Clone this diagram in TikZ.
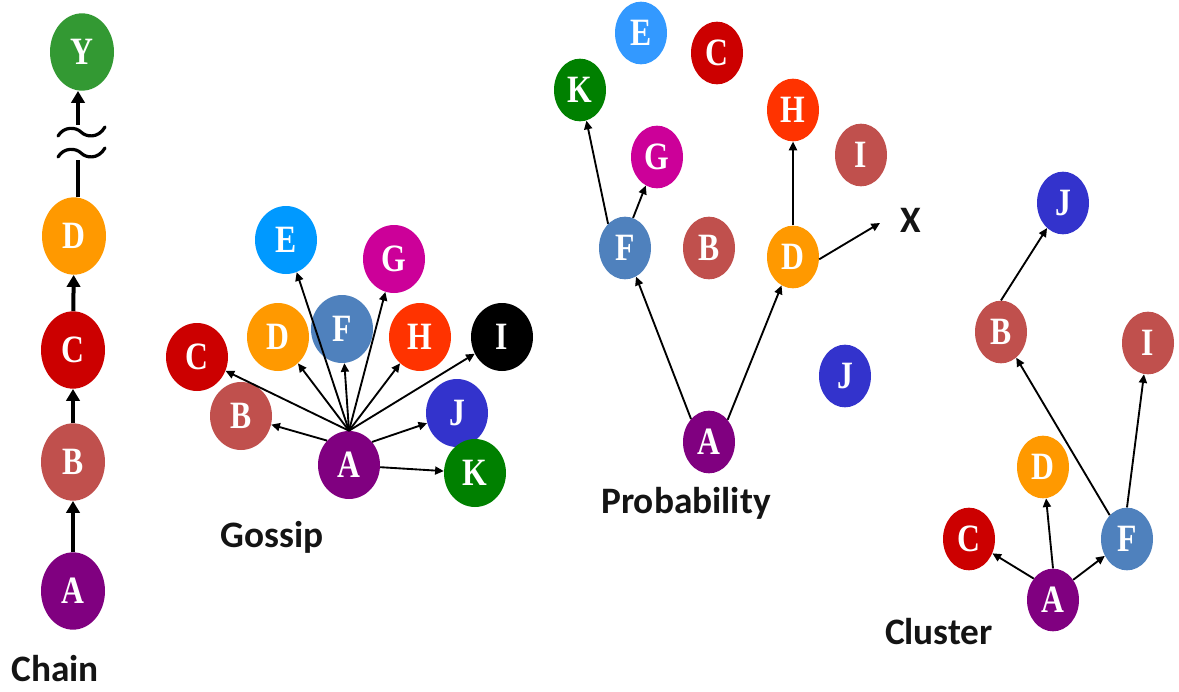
\documentclass[tikz,border=0pt]{standalone}
\usepackage{fontspec}
\setmainfont{Carlito}
\newfontfamily\letterfont{Liberation Serif}[FakeStretch=0.82]
\usetikzlibrary{shapes.geometric,arrows.meta}

\definecolor{colA}{HTML}{800080}
\definecolor{colB}{HTML}{C0504D}
\definecolor{colC}{HTML}{CC0000}
\definecolor{colD}{HTML}{FF9900}
\definecolor{colE}{HTML}{0099FF}
\definecolor{colEl}{HTML}{3399FF}
\definecolor{colF}{HTML}{4F81BD}
\definecolor{colG}{HTML}{CC0099}
\definecolor{colH}{HTML}{FF3300}
\definecolor{colI}{HTML}{000000}
\definecolor{colJ}{HTML}{3333CC}
\definecolor{colK}{HTML}{008000}
\definecolor{colY}{HTML}{339933}
\definecolor{captioncol}{HTML}{141414}

\begin{document}
\begin{tikzpicture}[x=0.75pt,y=-0.75pt,
  peer/.style={ellipse,inner sep=0pt,text=white,
    font=\letterfont\bfseries\fontsize{29}{29}\selectfont},
  chainpeer/.style={peer,minimum width=48pt,minimum height=58pt},
  gpeer/.style={peer,minimum width=46.5pt,minimum height=51pt},
  spreadpeer/.style={peer,minimum width=39pt,minimum height=47pt},
  caption/.style={font=\bfseries\fontsize{28}{28}\selectfont,text=captioncol},
  thinarrow/.style={line width=1.4pt,-{Triangle[length=6.5pt,width=6pt]}},
  heavyline/.style={line width=3pt},
  heavyarrow/.style={heavyline,-{Triangle[length=9pt,width=10pt]}},
  wave/.style={line width=2.4pt,line cap=round}]

\useasboundingbox (0,0) rectangle (1179,692);

% ---------------- Chain ----------------
\node[chainpeer,fill=colY] (cY) at (82,52) {Y};
\node[chainpeer,fill=colD] (cD) at (74,236) {D};
\node[chainpeer,fill=colC] (cC) at (73,350) {C};
\node[chainpeer,fill=colB] (cB) at (73,462) {B};
\node[chainpeer,fill=colA] (cA) at (73,591) {A};
\node[caption] (chainlbl) at (55,669) {Chain};

\draw[heavyarrow] (cA) -- (cB);
\draw[heavyarrow] (cB) -- (cC);
\draw[heavyarrow] (cC) -- (cD);
\coordinate (brkLow) at (78,160);
\coordinate (brkHigh) at (78,125);
\draw[heavyline] (cD.north -| brkLow) -- (brkLow);
\draw[heavyarrow] (brkHigh) -- (brkHigh |- cY.south);
% break marks
\draw[wave] (58,136) .. controls (64,126) and (76,127) .. (81,132)
  .. controls (86,137) and (98,139) .. (105,127);
\draw[wave] (58,157) .. controls (64,147) and (76,148) .. (81,153)
  .. controls (86,158) and (98,160) .. (105,148);

% ---------------- Gossip ----------------
\node[gpeer,fill=colC] (gC) at (197,357) {C};
\node[gpeer,fill=colB] (gB) at (241,416) {B};
\node[gpeer,fill=colD] (gD) at (278,337) {D};
\node[gpeer,fill=colF] (gF) at (342,329) {F};
\node[gpeer,fill=colE] (gE) at (286,240) {E};
\node[gpeer,fill=colG] (gG) at (394,259) {G};
\node[gpeer,fill=colH] (gH) at (420,337) {H};
\node[gpeer,fill=colI] (gI) at (502,337) {I};
\node[gpeer,fill=colJ] (gJ) at (457,413) {J};
\node[gpeer,fill=colK] (gK) at (475,473) {K};
\node[gpeer,fill=colA] (gA) at (349,465) {A};
\node[caption] (gossiplbl) at (272,537) {Gossip};

\foreach \t in {gC,gD,gE,gF,gG,gH,gI}
  \draw[thinarrow] (gA.north) -- (\t);
\draw[thinarrow] (gA.132) -- (gB);
\draw[thinarrow] (gA.45) -- (gJ);
\draw[thinarrow] (gA.-4) -- (gK);

% ---------------- Probability ----------------
\node[spreadpeer,fill=colEl] (pE) at (641,33) {E};
\node[spreadpeer,fill=colC] (pC) at (717,53) {C};
\node[spreadpeer,fill=colK] (pK) at (580,90) {K};
\node[spreadpeer,fill=colG] (pG) at (657,157) {G};
\node[spreadpeer,fill=colH] (pH) at (793,110) {H};
\node[spreadpeer,fill=colB] (pI) at (861,155) {I};
\node[spreadpeer,fill=colF] (pF) at (625,248) {F};
\node[spreadpeer,fill=colB] (pB) at (709,248) {B};
\node[spreadpeer,fill=colD] (pD) at (793,257) {D};
\node[spreadpeer,fill=colJ] (pJ) at (845,376) {J};
\node[spreadpeer,fill=colA] (pA) at (709,442) {A};
\node[caption] (pX) at (911,220) {X};
\coordinate (pXend) at (880,223);
\node[caption] (problbl) at (686,503) {Probability};

\draw[thinarrow] (pA.128) -- (pF);
\draw[thinarrow] (pA.50) -- (pD);
\draw[thinarrow] (pF.125) -- (pK);
\draw[thinarrow] (pF.75) -- (pG);
\draw[thinarrow] (pD.north) -- (pH);
\draw[thinarrow] (pD.-5) -- (pXend);

% ---------------- Cluster ----------------
\node[spreadpeer,fill=colJ] (kJ) at (1063,203) {J};
\node[spreadpeer,fill=colB] (kB) at (1001,332) {B};
\node[spreadpeer,fill=colB] (kI) at (1148,343) {I};
\node[spreadpeer,fill=colD] (kD) at (1043,467) {D};
\node[spreadpeer,fill=colC] (kC) at (969,539) {C};
\node[spreadpeer,fill=colF] (kF) at (1127,539) {F};
\node[spreadpeer,fill=colA] (kA) at (1053,600) {A};
\node[caption] (clusterlbl) at (939,632) {Cluster};

\draw[thinarrow] (kB.north) -- (kJ);
\draw[thinarrow] (kF.126) -- (kB);
\draw[thinarrow] (kF.north) -- (kI);
\draw[thinarrow] (kA.132) -- (kC);
\draw[thinarrow] (kA.north) -- (kD);
\draw[thinarrow] (kA.45) -- (kF);

\end{tikzpicture}
\end{document}
